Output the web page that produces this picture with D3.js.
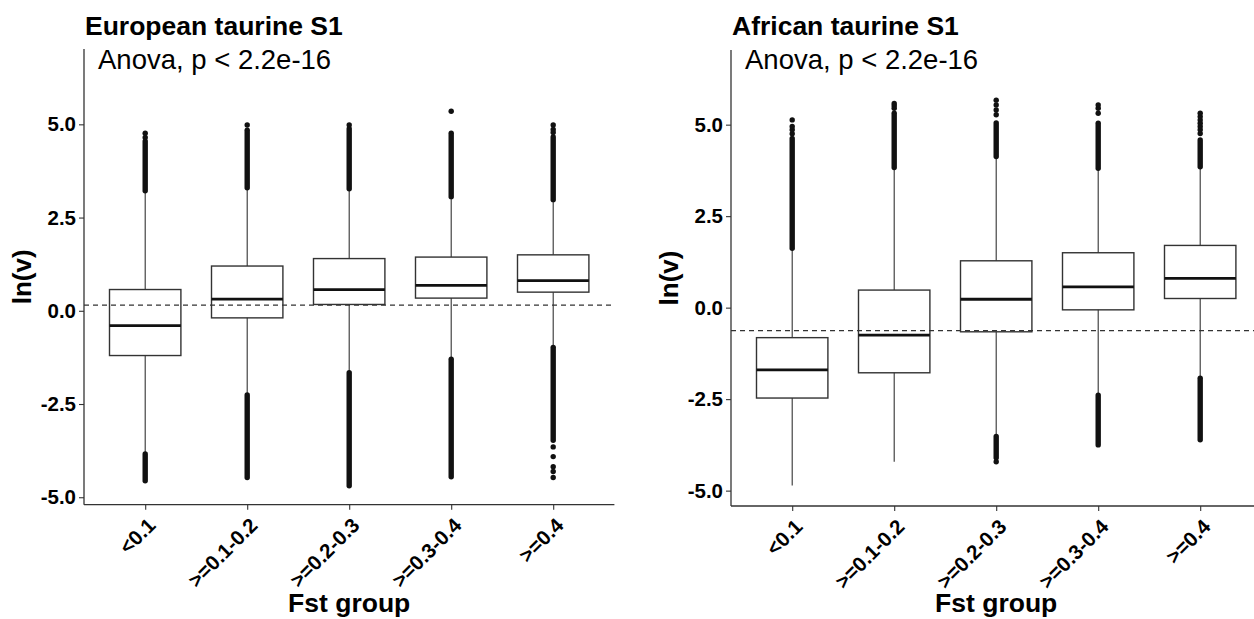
<!DOCTYPE html>
<html>
<head>
<meta charset="utf-8">
<script src="https://cdn.jsdelivr.net/npm/d3@7"></script>
<style>
  html, body { margin: 0; padding: 0; background: #ffffff; }
  svg { display: block; }
  text { font-family: "Liberation Sans", Arial, Helvetica, sans-serif; }
</style>
</head>
<body>
<svg id="chart" width="1254" height="619"></svg>
<script>
// ---------- data ----------
const categories = ["<0.1", ">=0.1-0.2", ">=0.2-0.3", ">=0.3-0.4", ">=0.4"];
const yTickValues = [-5.0, -2.5, 0.0, 2.5, 5.0];
const yTickLabels = ["-5.0", "-2.5", "0.0", "2.5", "5.0"];
const panelTitles = ["European taurine S1", "African taurine S1"];
const testLabels = ["Anova, p < 2.2e-16", "Anova, p < 2.2e-16"];
const xAxisTitle = "Fst group";
const yAxisTitle = "ln(v)";

// European taurine S1
const euQ1 = [-1.20, -0.19, 0.17, 0.34, 0.50];
const euMedian = [-0.40, 0.31, 0.57, 0.68, 0.81];
const euQ3 = [0.57, 1.20, 1.40, 1.44, 1.50];
const euWhiskerLow = [-3.82, -2.24, -1.64, -1.28, -0.96];
const euWhiskerHigh = [3.20, 3.28, 3.25, 3.04, 2.96];
const euOutlierRanges = [
  [[3.22, 4.55], [-4.56, -3.84]],
  [[3.30, 4.84], [-4.47, -2.26]],
  [[3.27, 4.88], [-4.69, -1.66]],
  [[3.06, 4.76], [-4.45, -1.30]],
  [[2.98, 4.66], [-3.47, -0.98]]
];
const euOutlierPoints = [
  [4.65, 4.76],
  [4.98],
  [4.98],
  [5.35],
  [4.78, 4.86, 4.98, -3.65, -3.91, -4.18, -4.31, -4.47]
];
const euReference = 0.15;

// African taurine S1
const afQ1 = [-2.47, -1.78, -0.66, -0.06, 0.25];
const afMedian = [-1.70, -0.75, 0.23, 0.57, 0.80];
const afQ3 = [-0.82, 0.48, 1.28, 1.50, 1.70];
const afWhiskerLow = [-4.86, -4.21, -3.50, -2.37, -1.91];
const afWhiskerHigh = [1.60, 3.81, 4.11, 3.79, 3.83];
const afOutlierRanges = [
  [[1.62, 4.62]],
  [[3.83, 5.31]],
  [[4.13, 5.05], [-4.10, -3.52]],
  [[3.81, 5.04], [-3.75, -2.39]],
  [[3.85, 4.58], [-3.61, -1.93]]
];
const afOutlierPoints = [
  [4.75, 4.86, 4.95, 5.13],
  [5.45, 5.52, 5.58],
  [5.27, 5.40, 5.54, 5.67, -4.21],
  [5.31, 5.45, 5.54],
  [4.76, 4.86, 4.95, 5.04, 5.13, 5.22, 5.31]
];
const afReference = -0.63;

// ---------- drawing ----------
const svg = d3.select("#chart");
const FONT = '"Liberation Sans", Arial, Helvetica, sans-serif';
const INK = "#333333";

const panels = [
  { axisX: 84, axisXEnd: 614.4, top: 49, bottom: 504.7, domain: [-5.2, 7.02],
    q1: euQ1, med: euMedian, q3: euQ3, wlo: euWhiskerLow, whi: euWhiskerHigh,
    ranges: euOutlierRanges, points: euOutlierPoints, ref: euReference,
    title: panelTitles[0], test: testLabels[0] },
  { axisX: 731, axisXEnd: 1261.4, top: 50, bottom: 506, domain: [-5.42, 7.04],
    q1: afQ1, med: afMedian, q3: afQ3, wlo: afWhiskerLow, whi: afWhiskerHigh,
    ranges: afOutlierRanges, points: afOutlierPoints, ref: afReference,
    title: panelTitles[1], test: testLabels[1] }
];

panels.forEach(p => {
  const g = svg.append("g");
  const x = d3.scalePoint().domain(categories).range([p.axisX, p.axisXEnd]).padding(0.6);
  const y = d3.scaleLinear().domain(p.domain).range([p.bottom, p.top]);
  const step = x.step();
  const bw = step * 0.7;

  // reference dashed line (drawn beneath boxes)
  g.append("line")
    .attr("x1", p.axisX).attr("x2", p.axisXEnd)
    .attr("y1", y(p.ref)).attr("y2", y(p.ref))
    .attr("stroke", INK).attr("stroke-width", 1.2)
    .attr("stroke-dasharray", "5,4");

  categories.forEach((c, i) => {
    const cx = x(c);
    // whiskers
    g.append("line").attr("x1", cx).attr("x2", cx)
      .attr("y1", y(p.q3[i])).attr("y2", y(p.whi[i]))
      .attr("stroke", INK).attr("stroke-width", 1.1);
    g.append("line").attr("x1", cx).attr("x2", cx)
      .attr("y1", y(p.q1[i])).attr("y2", y(p.wlo[i]))
      .attr("stroke", INK).attr("stroke-width", 1.1);
    // box
    g.append("rect")
      .attr("x", cx - bw / 2).attr("width", bw)
      .attr("y", y(p.q3[i])).attr("height", y(p.q1[i]) - y(p.q3[i]))
      .attr("fill", "none").attr("stroke", INK).attr("stroke-width", 1.4);
    // median
    g.append("line")
      .attr("x1", cx - bw / 2).attr("x2", cx + bw / 2)
      .attr("y1", y(p.med[i])).attr("y2", y(p.med[i]))
      .attr("stroke", "#111").attr("stroke-width", 2.8);
    // dense outlier runs
    p.ranges[i].forEach(r => {
      g.append("line").attr("x1", cx).attr("x2", cx)
        .attr("y1", y(r[0])).attr("y2", y(r[1]))
        .attr("stroke", "#111").attr("stroke-width", 5.4)
        .attr("stroke-linecap", "round");
    });
    // individual outliers
    p.points[i].forEach(v => {
      g.append("circle").attr("cx", cx).attr("cy", y(v)).attr("r", 2.7)
        .attr("fill", "#111");
    });
  });

  // axes
  const yAxis = d3.axisLeft(y).tickValues(yTickValues)
    .tickFormat((d, i) => yTickLabels[i]).tickSize(5).tickPadding(3);
  const ya = g.append("g").attr("transform", `translate(${p.axisX},0)`).call(yAxis);
  ya.select(".domain").attr("d", `M0,${p.top}V${p.bottom}`).attr("stroke", INK).attr("stroke-width", 1.3);
  ya.selectAll(".tick line").attr("stroke", INK).attr("stroke-width", 1.1);
  ya.selectAll(".tick text").attr("fill", "#000")
    .style("font-family", FONT).style("font-size", "20.5px").style("font-weight", "bold");

  const xAxis = d3.axisBottom(x).tickSize(5).tickFormat(d => d);
  const xa = g.append("g").attr("transform", `translate(0,${p.bottom})`).call(xAxis);
  xa.select(".domain").attr("d", `M${p.axisX},0H${p.axisXEnd}`).attr("stroke", INK).attr("stroke-width", 1.3);
  xa.selectAll(".tick line").attr("stroke", INK).attr("stroke-width", 1.1);
  xa.selectAll(".tick text")
    .attr("fill", "#000")
    .attr("text-anchor", "end")
    .attr("x", 0).attr("y", 0).attr("dy", null)
    .attr("transform", "translate(11,22) rotate(-45)")
    .style("font-family", FONT).style("font-size", "20.5px").style("font-weight", "bold");

  // titles
  g.append("text").attr("x", p.axisX + 1).attr("y", 35)
    .style("font-family", FONT).style("font-size", "26.5px").style("font-weight", "bold")
    .attr("fill", "#000").text(p.title);
  g.append("text").attr("x", p.axisX + 14).attr("y", 69)
    .style("font-family", FONT).style("font-size", "27.5px")
    .attr("fill", "#000").text(p.test);

  // axis titles
  g.append("text")
    .attr("transform", `translate(${p.axisX - 53.5},${(p.top + p.bottom) / 2}) rotate(-90)`)
    .attr("text-anchor", "middle")
    .style("font-family", FONT).style("font-size", "26px").style("font-weight", "bold")
    .attr("fill", "#000").text(yAxisTitle);
  g.append("text")
    .attr("x", (p.axisX + p.axisXEnd) / 2).attr("y", 612)
    .attr("text-anchor", "middle")
    .style("font-family", FONT).style("font-size", "26.5px").style("font-weight", "bold")
    .attr("fill", "#000").text(xAxisTitle);
});
</script>
</body>
</html>
